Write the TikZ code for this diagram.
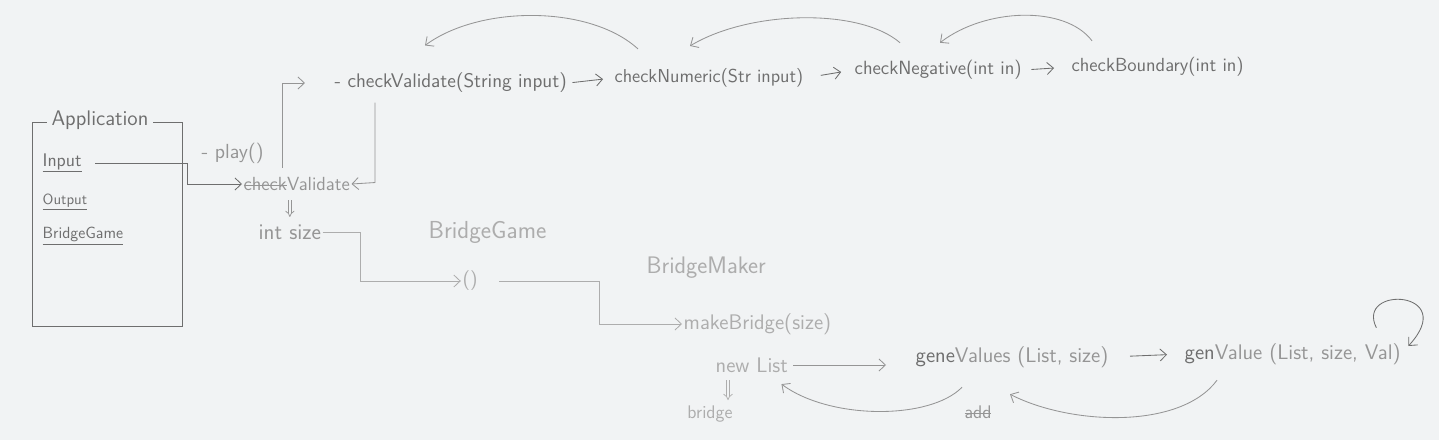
\documentclass[tikz,border=0pt]{standalone}
\usepackage{tikz}
\usetikzlibrary{arrows.meta,positioning,calc}

\definecolor{pencil}{HTML}{6E6E6E}
\definecolor{soft}{HTML}{959595}
\definecolor{faint}{HTML}{ADADAD}
\definecolor{paper}{HTML}{F1F3F4}
\newcommand{\strk}[1]{\begingroup\setbox0=\hbox{#1}\rlap{\rule[0.55ex]{\wd0}{0.5pt}}\box0\endgroup}

\begin{document}
\begin{tikzpicture}[
    x=0.025cm, y=-0.025cm,
    hand/.style={font=\sffamily\fontsize{#1}{#1}\selectfont, inner sep=1pt, text=pencil},
    line/.style={-{Straight Barb[length=1.6mm, width=3mm]}, line width=0.6pt, draw=pencil},
    dbl/.style={double=paper, double distance=1.8pt, line width=0.5pt, -{Implies}, draw=soft}
]
\fill[paper, use as bounding box] (0,0) rectangle (1439,440);

% Application class
\node[draw=pencil, line width=0.6pt, minimum width=3.75cm, minimum height=5.1cm] (appbox) at (107,224) {};
\node[hand=15, fill=paper, inner xsep=3pt] (app) at (100,120) {Application};
\node[hand=13, anchor=west] (input) at (41,163) {\underline{Input}};
\node[hand=10.5, below=4.5mm of input.south west, anchor=north west] (output) {\underline{Output}};
\node[hand=11.5, below=3.5mm of output.south west, anchor=north west] (bgfield) {\underline{BridgeGame}};

\node[hand=14.5, text=soft, anchor=west] (play) at (200,153) {- play()};
\node[hand=13.5, text=soft, anchor=west] (chkv) at (242,184) {\strk{check}Validate};
\node[hand=16, text=soft, anchor=west] (isize) at (257,232) {int size};

% validation chain
\node[hand=14, anchor=west] (cvs) at (333,83) {- checkValidate(String input)};
\node[hand=13.3, anchor=west] (cnum) at (613,78) {checkNumeric(Str input)};
\node[hand=13.6, anchor=west] (cneg) at (853,70) {checkNegative(int in)};
\node[hand=13.5, anchor=west] (cbound) at (1070,67) {checkBoundary(int in)};

% bridge making
\node[hand=17.5, text=faint, anchor=west] (bgame) at (427,232) {BridgeGame};
\node[hand=14, text=faint] (ctor) at (470,281) {()};
\node[hand=17, text=faint, anchor=west] (bmaker) at (645,268) {BridgeMaker};
\node[hand=15, text=faint, anchor=west] (mkbr) at (682,324) {makeBridge(size)};
\node[hand=15, text=faint, anchor=west] (nlist) at (714,365) {new List};
\node[hand=13, text=faint] (bridge) at (710,414) {bridge};
\node[hand=15, text=soft, anchor=west] (genvs) at (914,357) {\textcolor{pencil}{gene}Values (List, size)};
\node[hand=15, text=soft, anchor=west] (genv) at (1183,354) {\textcolor{pencil}{gen}Value (List, size, Val)};
\node[hand=13, text=soft] (add) at (978,412) {\strk{add}};

\draw[line, shorten <=3mm] (input.east) -- ++(104,0) |- (chkv.west);
\draw[line, draw=soft, shorten >=7mm] ($(chkv.north west)+(40,-8)$) |- (cvs.west);
\draw[line, draw=soft] ($(cvs.south west)+(42,8)$) -- ++(0,80) -- (chkv.east);
\draw[dbl, shorten <=2mm, shorten >=1.5mm] (chkv.south -| isize.north) -- (isize.north);

\draw[line, shorten <=1mm, shorten >=2.5mm] (cvs.east) -- (cnum.west);
\draw[line, shorten <=4mm, shorten >=3mm] (cnum.east) -- (cneg.west);
\draw[line, shorten <=2mm, shorten >=4mm] (cneg.east) -- (cbound.west);
\draw[line, draw=soft] ($(cnum.north west)+(25,-18)$) .. controls (590,5) and (480,5) .. ($(cvs.north west)+(92,-26)$);
\draw[line, draw=soft] ($(cneg.north west)+(47,-16)$) .. controls (860,8) and (750,10) .. ($(cnum.north west)+(77,-21)$);
\draw[line, draw=soft] ($(cbound.north west)+(22,-15)$) .. controls (1065,5) and (985,8) .. ($(cneg.north west)+(87,-16)$);

\draw[line, draw=faint] (isize.east) -- ++(38,0) |- (ctor.west);
\draw[line, draw=faint, shorten <=5mm] (ctor.east) -- ++(120,0) |- (mkbr.west);
\draw[dbl, draw=faint, shorten <=1.5mm, shorten >=1mm] ($(nlist.south west)+(14,0)$) -- ($(bridge.north)+(18,0)$);
\draw[line, draw=soft, shorten <=1mm, shorten >=7mm] (nlist.east) -- (nlist.east -| genvs.west);
\draw[line, shorten <=5mm, shorten >=4mm] (genvs.east) -- (genv.west);
\draw[line] ($(genv.north east)+(-26,-14)$) .. controls (1355,285) and (1460,290) .. ($(genv.east)+(6,-8)$);
\draw[line, draw=soft] ($(genv.south west)+(34,14)$) .. controls (1180,430) and (1070,425) .. ($(genvs.south west)+(96,25)$);
\draw[line, draw=soft] ($(genvs.south west)+(48,18)$) .. controls (930,420) and (830,420) .. ($(nlist.south east)+(-8,10)$);
\end{tikzpicture}
\end{document}
